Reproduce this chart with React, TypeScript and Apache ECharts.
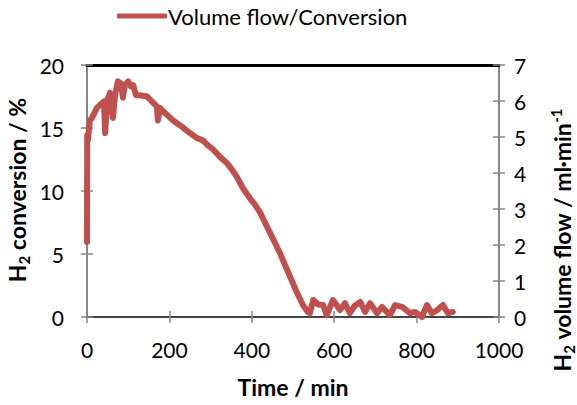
import React, { useEffect, useRef } from "react";
import * as echarts from "echarts";

const timeMin = [0, 0.5, 2, 7, 12, 24, 34, 41, 44, 49, 56, 63, 68, 75, 83, 87, 92, 100, 107, 112, 119, 129, 146, 158, 170, 172, 177, 189, 209, 226, 250, 267, 282, 294, 306, 323, 340, 352, 364, 379, 396, 408, 420, 432, 444, 456, 468, 481, 493, 510, 524, 536, 541, 549, 561, 573, 582, 597, 614, 626, 638, 650, 663, 675, 687, 704, 716, 735, 748, 765, 784, 796, 813, 825, 837, 850, 864, 876, 888];
const conversion = [5.95, 14.4, 14.0, 15.6, 15.8, 16.6, 16.9, 17.1, 14.6, 17.2, 17.8, 15.8, 17.6, 18.7, 18.5, 17.4, 18.4, 18.7, 18.3, 18.4, 17.6, 17.6, 17.5, 17.1, 16.7, 15.6, 16.6, 16.2, 15.6, 15.2, 14.6, 14.2, 14.0, 13.6, 13.3, 12.7, 12.2, 11.7, 11.1, 10.2, 9.4, 8.9, 8.3, 7.5, 6.7, 5.9, 5.1, 4.1, 3.2, 1.9, 0.95, 0.4, 0.3, 1.35, 1.0, 0.95, 0.15, 1.35, 0.55, 1.1, 0.3, 0.9, 1.2, 0.4, 1.1, 0.3, 0.8, 0.15, 0.95, 0.8, 0.3, 0.4, 0, 0.95, 0.3, 0.55, 0.95, 0.3, 0.4];

const seriesName = "Volume flow/Conversion";
const xName = "Time / min";

const FONT = "Lato";
const GRAY = "#868686";

export default function App() {
  const ref = useRef<HTMLDivElement>(null);
  useEffect(() => {
    if (!ref.current) return;
    const chart = echarts.init(ref.current, undefined, { renderer: "svg" });
    const data = timeMin.map((t, i) => [t, conversion[i]]);
    const labelStyle = { fontFamily: FONT, fontSize: 21, color: "#000", formatter: (v: number) => String(v) };
    const baseY = { min: 0, max: 20, interval: 5, splitLine: { show: false } };
    const tickOut = { show: true, length: 6, lineStyle: { color: GRAY, width: 1.5 } };
    const tickIn = { show: true, inside: true, length: 6, lineStyle: { color: GRAY, width: 1.5 } };
    const bold = { fontFamily: FONT, fontSize: 23, fontWeight: "bold", fill: "#000", lineHeight: 28, verticalAlign: "middle" };
    const sub = { fontFamily: FONT, fontSize: 15, fontWeight: "bold", fill: "#000", lineHeight: 28, verticalAlign: "bottom", padding: [9, 0, 0, 0] };
    const sup = { fontFamily: FONT, fontSize: 15, fontWeight: "bold", fill: "#000", lineHeight: 28, verticalAlign: "top", padding: [0, 0, 9, 0] };
    chart.setOption({
      animation: false,
      backgroundColor: "#fff",
      textStyle: { fontFamily: FONT },
      grid: { left: 87, right: 78, top: 65, bottom: 88 },
      legend: {
        data: [seriesName],
        left: 112,
        top: 0,
        icon: "roundRect",
        itemWidth: 50,
        itemHeight: 5,
        itemGap: 4,
        textStyle: { fontFamily: FONT, fontSize: 22, color: "#000", padding: [0, 0, 0, -4] },
      },
      xAxis: [
        {
          type: "value",
          min: 0,
          max: 1000,
          interval: 200,
          position: "bottom",
          name: xName,
          nameLocation: "middle",
          nameGap: 58,
          nameTextStyle: { fontFamily: FONT, fontSize: 23, fontWeight: "bold", color: "#000" },
          axisLine: { onZero: false, lineStyle: { color: "#444", width: 2 } },
          axisTick: tickOut,
          axisLabel: { ...labelStyle, margin: 22 },
          splitLine: { show: false },
        },
        {
          type: "value",
          min: 0,
          max: 1000,
          interval: 200,
          position: "bottom",
          axisLine: { show: false, onZero: false },
          axisTick: tickIn,
          axisLabel: { show: false },
          splitLine: { show: false },
        },
        {
          type: "value",
          min: 0,
          max: 1000,
          position: "top",
          axisLine: { onZero: false, lineStyle: { color: "#000", width: 3 } },
          axisTick: { show: false },
          axisLabel: { show: false },
          splitLine: { show: false },
        },
      ],
      yAxis: [
        {
          ...baseY,
          type: "value",
          position: "left",
          axisLine: { show: true, onZero: false, lineStyle: { color: GRAY, width: 2 } },
          axisTick: tickOut,
          axisLabel: { ...labelStyle, margin: 23 },
        },
        {
          ...baseY,
          type: "value",
          position: "left",
          axisLine: { show: false, onZero: false },
          axisTick: tickIn,
          axisLabel: { show: false },
        },
        {
          type: "value",
          min: 0,
          max: 7,
          interval: 1,
          splitLine: { show: false },
          position: "right",
          axisLine: { show: true, onZero: false, lineStyle: { color: GRAY, width: 2 } },
          axisTick: tickOut,
          axisLabel: { ...labelStyle, margin: 15 },
        },
        {
          type: "value",
          min: 0,
          max: 7,
          interval: 1,
          splitLine: { show: false },
          position: "right",
          axisLine: { show: false, onZero: false },
          axisTick: tickIn,
          axisLabel: { show: false },
        },
      ],
      graphic: [
        {
          type: "text",
          x: 17,
          y: 190,
          rotation: Math.PI / 2,
          style: {
            text: "{b|H}{s|2}{b| conversion / %}",
            align: "center",
            verticalAlign: "middle",
            rich: { b: bold, s: sub },
          },
        },
        {
          type: "text",
          x: 562,
          y: 240,
          rotation: Math.PI / 2,
          style: {
            text: "{b|H}{s|2}{b| volume flow / ml·min}{p|-1}",
            align: "center",
            verticalAlign: "middle",
            rich: { b: bold, s: sub, p: sup },
          },
        },
      ],
      series: [
        {
          name: seriesName,
          type: "line",
          xAxisIndex: 0,
          yAxisIndex: 0,
          data,
          showSymbol: false,
          symbol: "none",
          lineStyle: { color: "#C0504D", width: 6, join: "round", cap: "round" },
          itemStyle: { color: "#C0504D" },
        },
      ],
    });
    return () => chart.dispose();
  }, []);
  return <div ref={ref} style={{ width: 577, height: 405, position: "absolute", left: 0, top: 0 }} />;
}
